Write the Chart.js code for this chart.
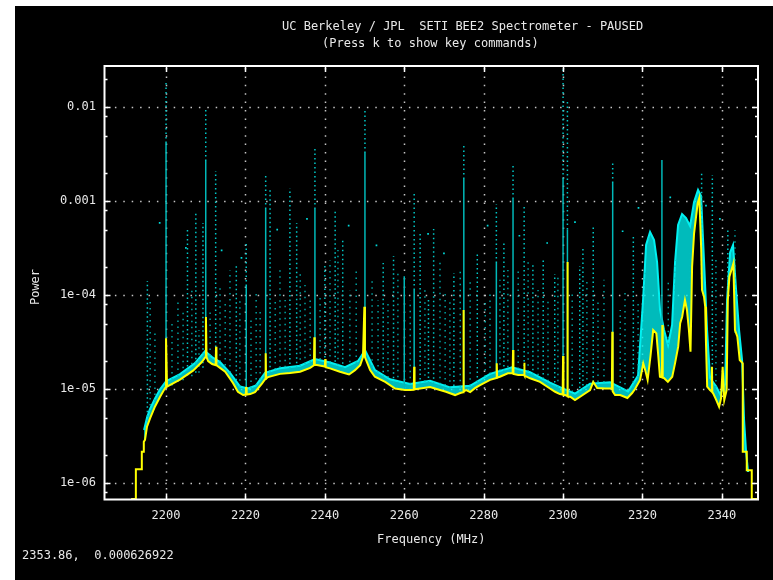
<!DOCTYPE html>
<html><head><meta charset="utf-8">
<script src="https://cdn.jsdelivr.net/npm/chart.js@4.4.1/dist/chart.umd.min.js"></script>
<style>html,body{margin:0;padding:0;background:#fff;}canvas{display:block;}</style>
</head><body><canvas id="c" width="773" height="580"></canvas>
<script>
// ---- data ----
const titleLines = ['UC Berkeley / JPL  SETI BEE2 Spectrometer - PAUSED', '(Press k to show key commands)'];
const xLabel = 'Frequency (MHz)';
const yLabel = 'Power';
const readout = '2353.86,  0.000626922';
const xTicks = [2200, 2220, 2240, 2260, 2280, 2300, 2320, 2340];
const yTicks = [1e-6, 1e-5, 1e-4, 1e-3, 1e-2];
const yTickLabels = ['1e-06', '1e-05', '1e-04', '0.001', '0.01'];
const yMinorMult = [2, 5, 8];

// yellow spectrum (averaged power)
const specFreq = [2191.2,2192.4,2192.4,2193.9,2193.9,2194.4,2194.4,2194.7,2195.2,2196.0,2197.2,2198.5,2199.75,2200.0,2200.0,2200.25,2203.5,2206.8,2209.0,2209.9,2210.05,2210.2,2210.6,2211.6,2212.5,2212.6,2212.7,2213.6,2214.9,2216.9,2218.1,2219.4,2220.1,2220.15,2220.3,2221.2,2222.4,2224.2,2225.0,2225.1,2225.2,2225.7,2228.7,2231.2,2233.75,2236.3,2237.25,2237.35,2237.45,2238.0,2239.3,2240.0,2240.1,2240.2,2241.3,2243.8,2246.1,2247.6,2248.9,2249.6,2249.95,2250.1,2250.4,2251.4,2252.6,2255.2,2257.7,2260.2,2261.5,2262.4,2262.5,2262.6,2264.0,2266.5,2269.0,2270.5,2272.8,2274.1,2274.8,2274.9,2275.0,2275.6,2276.6,2277.8,2279.1,2281.6,2283.2,2283.3,2283.4,2284.1,2286.1,2287.3,2287.4,2287.5,2288.7,2289.7,2290.2,2290.25,2290.3,2291.7,2294.2,2296.7,2298.0,2299.2,2299.9,2300.0,2300.1,2300.5,2301.0,2301.1,2301.2,2301.8,2303.0,2304.3,2306.8,2307.6,2308.6,2310.6,2312.3,2312.4,2312.5,2313.1,2314.4,2316.2,2317.4,2318.2,2319.4,2320.2,2320.7,2321.3,2322.0,2322.7,2323.5,2324.0,2324.4,2324.9,2325.0,2325.1,2325.4,2326.4,2327.5,2328.2,2329.0,2329.5,2330.0,2330.7,2331.2,2331.7,2332.1,2332.5,2333.0,2333.5,2333.9,2334.3,2334.5,2334.8,2335.0,2335.5,2335.8,2336.0,2336.3,2337.0,2337.4,2337.5,2337.6,2337.8,2338.6,2339.3,2339.8,2340.2,2340.6,2341.2,2341.5,2341.9,2342.4,2342.9,2343.3,2343.9,2344.5,2345.26,2345.26,2346.27,2346.27,2347.53,2347.53,2349.0];
const specPower = [6.8e-7,6.8e-7,1.41e-6,1.41e-6,2.17e-6,2.17e-6,2.77e-6,2.9e-6,4.0e-6,4.95e-6,6.53e-6,8.34e-6,1.03e-5,1.05e-5,3.5e-5,1.07e-5,1.27e-5,1.58e-5,1.95e-5,2.2e-5,5.87e-5,2.2e-5,2.0e-5,1.86e-5,1.81e-5,2.84e-5,1.8e-5,1.69e-5,1.54e-5,1.16e-5,9.42e-6,8.69e-6,8.8e-6,1.06e-5,8.8e-6,8.9e-6,9.35e-6,1.16e-5,1.29e-5,2.42e-5,1.3e-5,1.35e-5,1.46e-5,1.49e-5,1.54e-5,1.69e-5,1.8e-5,3.57e-5,1.81e-5,1.81e-5,1.77e-5,1.75e-5,2.1e-5,1.72e-5,1.67e-5,1.54e-5,1.44e-5,1.6e-5,1.81e-5,2.21e-5,7.57e-5,2.2e-5,2.05e-5,1.6e-5,1.36e-5,1.2e-5,1.02e-5,9.83e-6,9.83e-6,9.9e-6,1.74e-5,1.0e-5,1.02e-5,1.06e-5,9.83e-6,9.42e-6,8.69e-6,9.14e-6,9.3e-6,6.98e-5,9.5e-6,9.83e-6,9.35e-6,1.03e-5,1.11e-5,1.26e-5,1.32e-5,1.89e-5,1.33e-5,1.36e-5,1.48e-5,1.48e-5,2.62e-5,1.46e-5,1.42e-5,1.42e-5,1.42e-5,1.92e-5,1.4e-5,1.31e-5,1.2e-5,1.02e-5,9.42e-6,8.9e-6,8.8e-6,2.26e-5,8.7e-6,8.69e-6,8.5e-6,2.26e-4,8.4e-6,8.34e-6,7.69e-6,8.34e-6,9.83e-6,1.2e-5,1.03e-5,1.02e-5,1.02e-5,4.1e-5,9.5e-6,8.69e-6,8.69e-6,8.08e-6,9.14e-6,1.02e-5,1.26e-5,1.89e-5,1.6e-5,1.26e-5,2.22e-5,4.27e-5,3.94e-5,2.22e-5,1.36e-5,1.34e-5,4.83e-5,1.33e-5,1.32e-5,1.2e-5,1.36e-5,1.89e-5,2.84e-5,5.04e-5,5.92e-5,8.91e-5,6.98e-5,4.27e-5,2.51e-5,2.01e-4,4.57e-4,6.86e-4,9.52e-4,1.08e-3,6.86e-4,3.03e-4,1.14e-4,9.66e-5,7.57e-5,3.08e-5,1.07e-5,9.83e-6,9.5e-6,1.74e-5,9.3e-6,9.06e-6,7.69e-6,6.53e-6,8.02e-6,1.74e-5,7.69e-6,9.83e-6,8.91e-5,1.58e-4,1.86e-4,2.19e-4,4.27e-5,3.63e-5,2.05e-5,1.89e-5,2.17e-6,2.17e-6,1.38e-6,1.38e-6,6.8e-7,6.8e-7];

// upper edge of the dense cyan (peak-hold) cloud
const cloudFreq = [2194.46,2195.21,2195.97,2197.23,2198.49,2200.0,2203.53,2207.3,2209.82,2211.59,2213.6,2216.12,2218.64,2220.65,2222.67,2224.94,2228.72,2233.75,2237.53,2241.31,2245.09,2248.36,2250.13,2252.64,2256.42,2261.46,2266.5,2271.54,2276.57,2281.61,2287.15,2291.69,2296.73,2299.75,2303.02,2306.8,2311.84,2316.37,2318.89,2320.15,2320.91,2321.91,2322.92,2323.68,2324.43,2325.44,2326.45,2327.46,2328.21,2328.97,2329.97,2330.98,2331.99,2332.99,2334.0,2334.76,2335.52,2336.27,2337.03,2338.54,2339.55,2340.81,2341.31,2342.07,2342.82,2343.58,2344.33,2345.09,2345.59,2346.1,2346.6];
const cloudPower = [3.69e-6,5.0e-6,6.2e-6,8.0e-6,1.0e-5,1.22e-5,1.45e-5,1.9e-5,2.55e-5,2.2e-5,1.95e-5,1.5e-5,1.07e-5,1.02e-5,1.1e-5,1.5e-5,1.68e-5,1.78e-5,2.1e-5,1.93e-5,1.72e-5,2.0e-5,2.6e-5,1.6e-5,1.28e-5,1.14e-5,1.23e-5,1.05e-5,1.09e-5,1.46e-5,1.72e-5,1.52e-5,1.18e-5,1.03e-5,9.0e-6,1.15e-5,1.19e-5,9.5e-6,1.4e-5,8.91e-5,3.43e-4,4.71e-4,3.87e-4,2.26e-4,6.98e-5,4.27e-5,2.96e-5,4.83e-5,2.26e-4,5.6e-4,7.33e-4,6.64e-4,5.46e-4,9.82e-4,1.32e-3,1.14e-3,2.26e-4,4.27e-5,1.32e-5,1.08e-5,8.9e-6,1.14e-5,8.91e-5,2.85e-4,3.43e-4,1.14e-4,4.27e-5,2.05e-5,4.71e-6,2.15e-6,1.32e-6];

// strong narrow-band carriers (peak hold)
const spikeFreq  = [2195.3,2200.0,2205.4,2207.5,2209.3,2210.0,2212.5,2217.7,2220.2,2225.1,2226.2,2231.2,2232.9,2237.5,2240.0,2242.6,2244.5,2250.1,2254.7,2257.3,2260.0,2262.5,2264.0,2266.1,2267.4,2272.5,2275.0,2278.4,2283.2,2285.1,2287.4,2290.2,2292.4,2295.0,2297.9,2300.0,2301.1,2304.2,2305.0,2307.6,2312.5,2317.7,2324.9,2334.9,2337.6,2341.5];
const spikeBase  = [4.1e-6,1.05e-5,1.4e-5,1.5e-5,1.7e-5,2.2e-5,1.82e-5,1.0e-5,8.8e-6,1.3e-5,1.38e-5,1.49e-5,1.52e-5,1.81e-5,1.75e-5,1.58e-5,1.5e-5,2.2e-5,1.22e-5,1.05e-5,9.9e-6,9.9e-6,1.02e-5,1.06e-5,1.04e-5,8.7e-6,9.5e-6,1.07e-5,1.3e-5,1.4e-5,1.48e-5,1.42e-5,1.28e-5,1.15e-5,9.5e-6,8.8e-6,8.5e-6,8.3e-6,8.8e-6,1.2e-5,1.0e-5,9.5e-6,1.36e-5,1.5e-4,9.5e-6,9.0e-5];
const spikeSolid = [null,4.17e-3,null,null,null,2.69e-3,null,null,1.26e-4,8.28e-4,null,null,null,8.28e-4,null,null,null,3.27e-3,null,null,1.6e-4,1.14e-4,null,null,null,null,1.73e-3,null,2.21e-4,null,1.06e-3,null,null,null,null,1.73e-3,5.0e-4,null,null,null,1.57e-3,null,2.75e-3,null,null,null];
const spikeMax   = [1.42e-4,1.82e-2,5.07e-4,7.52e-4,5.87e-4,9.84e-3,2.1e-3,2.05e-4,3.6e-4,1.86e-3,1.35e-3,1.38e-3,5.87e-4,3.6e-3,2.2e-4,8.28e-4,4.07e-4,9.6e-3,2.21e-4,2.62e-4,1.6e-4,1.22e-3,4.6e-4,9.15e-5,5.07e-4,1.73e-4,4.07e-3,2.82e-4,9.35e-4,3.79e-4,2.49e-3,8.91e-4,2.15e-4,2.43e-4,1.69e-4,2.55e-2,1.17e-2,2.05e-4,3.11e-4,5.34e-4,2.62e-3,4.17e-4,2.75e-3,2.0e-3,1.9e-3,5.2e-4];

// weaker sporadic columns of peak-hold dots
const colFreq = [2196.0,2197.2,2201.5,2203.0,2204.3,2206.5,2208.3,2211.1,2213.6,2214.9,2216.1,2218.6,2221.4,2222.7,2223.7,2227.5,2228.7,2230.0,2233.8,2235.0,2236.3,2238.8,2241.3,2243.3,2246.3,2247.9,2251.9,2253.4,2255.9,2258.4,2261.5,2265.2,2269.0,2270.3,2271.5,2274.1,2276.6,2280.4,2281.6,2284.1,2286.1,2288.7,2291.2,2293.7,2296.2,2298.7,2302.3,2306.0,2308.8,2310.3,2314.4,2315.6,2318.9,2320.7,2326.5,2328.2,2332.0,2338.5,2343.3];
const colBase = [5e-6,6.5e-6,1.1e-5,1.2e-5,1.25e-5,1.38e-5,1.5e-5,1.95e-5,1.7e-5,1.55e-5,1.3e-5,9.2e-6,8.9e-6,9.5e-6,1.1e-5,1.4e-5,1.46e-5,1.48e-5,1.54e-5,1.6e-5,1.69e-5,1.79e-5,1.67e-5,1.56e-5,1.45e-5,1.65e-5,1.5e-5,1.3e-5,1.15e-5,1.0e-5,9.8e-6,1.04e-5,9.8e-6,9.5e-6,9.0e-6,9.1e-6,9.4e-6,1.18e-5,1.26e-5,1.36e-5,1.48e-5,1.42e-5,1.33e-5,1.22e-5,1.05e-5,9.1e-6,8.1e-6,9.5e-6,1.03e-5,1.02e-5,8.7e-6,8.4e-6,1.15e-5,1.6e-5,1.25e-5,1.9e-5,3e-5,7.8e-6,4e-5];
const colTop = [8.91e-5,4.27e-5,5.46e-5,8.91e-5,6.98e-5,1.14e-4,4.27e-5,6.98e-5,1.29e-4,8.91e-5,1.86e-4,8.91e-5,5.46e-5,1.14e-4,6.98e-5,8.91e-5,1.86e-4,8.91e-5,1.86e-4,1.29e-4,8.91e-5,1.01e-4,2.38e-4,3.03e-4,1.14e-4,1.86e-4,1.46e-4,8.91e-5,8.91e-5,1.86e-4,8.91e-5,1.14e-4,2.38e-4,1.14e-4,8.91e-5,1.86e-4,1.46e-4,8.91e-5,1.14e-4,1.46e-4,1.86e-4,1.86e-4,2.38e-4,1.14e-4,8.91e-5,1.64e-4,1.14e-4,1.46e-4,8.91e-5,1.46e-4,6.98e-5,1.14e-4,8.91e-5,1.86e-4,1.46e-4,2.38e-4,3.03e-4,2.38e-4,4.94e-4];

// isolated high dots
const dotFreq = [2198.4,2205.0,2214.0,2219.0,2228.0,2235.5,2246.0,2253.0,2266.0,2270.0,2281.0,2289.0,2296.0,2303.0,2315.0,2319.0,2321.5,2327.0,2336.0,2339.5];
const dotPower = [5.9e-4,3.2e-4,3.0e-4,2.5e-4,5.0e-4,6.5e-4,5.5e-4,3.4e-4,4.5e-4,2.8e-4,5.5e-4,4.3e-4,3.6e-4,6.0e-4,4.8e-4,8.5e-4,4.0e-4,1.1e-3,9.0e-4,6.5e-4];

// ---- build datasets ----
const specData = specFreq.map((f, i) => ({x: f, y: specPower[i]}));
const cloudData = cloudFreq.map((f, i) => ({x: f, y: cloudPower[i]}));
const solidData = [], dottedData = [], colData = [];
spikeFreq.forEach((f, i) => {
  if (spikeSolid[i] !== null) { solidData.push({x: f, y: spikeBase[i]}, {x: f, y: spikeSolid[i]}, {x: f, y: null}); }
  const lo = spikeSolid[i] !== null ? spikeSolid[i] : spikeBase[i];
  dottedData.push({x: f, y: lo}, {x: f, y: spikeMax[i]}, {x: f, y: null});
});
colFreq.forEach((f, i) => { colData.push({x: f, y: colBase[i]}, {x: f, y: colTop[i]}, {x: f, y: null}); });
const dotData = dotFreq.map((f, i) => ({x: f, y: dotPower[i]}));

const FONT = '12px "DejaVu Sans Mono", "Liberation Mono", monospace';
const TXT = '#e8e8e8';

const gnuplotFrame = {
  id: 'gnuplotFrame',
  beforeDraw(chart) {
    const c = chart.ctx;
    c.save();
    c.fillStyle = '#ffffff'; c.fillRect(0, 0, chart.width, chart.height);
    c.fillStyle = '#000000'; c.fillRect(15, 6, chart.width - 15, chart.height - 6);
    c.restore();
  },
  beforeDatasetsDraw(chart) {
    const c = chart.ctx, a = chart.chartArea, xs = chart.scales.x, ys = chart.scales.y;
    c.save();
    c.strokeStyle = '#c4c4c4'; c.lineWidth = 1.5; c.setLineDash([1.5, 6.9]);
    xTicks.forEach(t => { const px = Math.round(xs.getPixelForValue(t)) + 0.5; c.beginPath(); c.moveTo(px, a.top + 2); c.lineTo(px, a.bottom - 2); c.stroke(); });
    yTicks.forEach(t => { const py = Math.round(ys.getPixelForValue(t)) + 0.5; c.beginPath(); c.moveTo(a.left + 2, py); c.lineTo(a.right - 2, py); c.stroke(); });
    c.restore();
  },
  afterDatasetsDraw(chart) {
    const c = chart.ctx, a = chart.chartArea, xs = chart.scales.x, ys = chart.scales.y;
    c.save();
    c.strokeStyle = '#ffffff'; c.lineWidth = 2; c.setLineDash([]);
    c.strokeRect(a.left, a.top, a.right - a.left, a.bottom - a.top);
    c.lineWidth = 1.5;
    xTicks.forEach(t => {
      const px = Math.round(xs.getPixelForValue(t)) + 0.5;
      c.beginPath(); c.moveTo(px, a.bottom); c.lineTo(px, a.bottom - 6); c.moveTo(px, a.top); c.lineTo(px, a.top + 6); c.stroke();
    });
    const minors = [];
    for (let e = -7; e <= -2; e++) yMinorMult.forEach(m => { const v = m * Math.pow(10, e); if (v > ys.min && v < ys.max) minors.push(v); });
    minors.forEach(v => {
      const py = Math.round(ys.getPixelForValue(v)) + 0.5;
      c.beginPath(); c.moveTo(a.left, py); c.lineTo(a.left + 3, py); c.moveTo(a.right, py); c.lineTo(a.right - 3, py); c.stroke();
    });
    yTicks.forEach(v => {
      const py = Math.round(ys.getPixelForValue(v)) + 0.5;
      c.beginPath(); c.moveTo(a.left, py); c.lineTo(a.left + 6, py); c.moveTo(a.right, py); c.lineTo(a.right - 6, py); c.stroke();
    });
    // labels
    c.fillStyle = TXT; c.font = FONT; c.textBaseline = 'middle';
    c.textAlign = 'right';
    yTicks.forEach((v, i) => c.fillText(yTickLabels[i], 96, ys.getPixelForValue(v)));
    c.textAlign = 'center';
    xTicks.forEach(t => c.fillText(String(t), xs.getPixelForValue(t), 516));
    c.fillText(xLabel, (a.left + a.right) / 2, 540);
    c.textAlign = 'left';
    c.fillText(titleLines[0], 282, 27);
    c.fillText(titleLines[1], 322, 44);
    c.fillText(readout, 22, 556);
    c.save(); c.translate(36, 287); c.rotate(-Math.PI / 2); c.textAlign = 'center'; c.fillText(yLabel, 0, 0); c.restore();
    c.restore();
  }
};

new Chart(document.getElementById('c'), {
  type: 'line',
  data: { datasets: [
    { label: 'avg', data: specData, borderColor: '#ffff00', borderWidth: 2, pointRadius: 0, tension: 0, fill: false, order: 0 },
    { label: 'carriers', data: solidData, borderColor: '#00b8b8', borderWidth: 1.5, pointRadius: 0, spanGaps: false, fill: false, order: 1 },
    { label: 'carriers peak', data: dottedData, borderColor: '#00c8c8', borderWidth: 1.5, borderDash: [1.5, 3], pointRadius: 0, spanGaps: false, fill: false, order: 2 },
    { label: 'sporadic', data: colData, borderColor: 'rgba(0,190,190,0.85)', borderWidth: 1.5, borderDash: [1.5, 4.5], pointRadius: 0, spanGaps: false, fill: false, order: 3 },
    { label: 'dots', data: dotData, showLine: false, pointRadius: 1.2, pointStyle: 'rect', pointBackgroundColor: '#00d8d8', pointBorderWidth: 0, order: 4 },
    { label: 'peak hold', data: cloudData, borderColor: '#00f0f0', borderWidth: 2, pointRadius: 0, tension: 0,
      fill: { target: 0, above: 'rgba(0,240,240,0.78)', below: 'rgba(0,0,0,0)' }, order: 5 }
  ]},
  options: {
    responsive: false, animation: false, devicePixelRatio: 1,
    layout: { padding: { left: 104.5, top: 66, right: 15, bottom: 80.5 } },
    scales: {
      x: { type: 'linear', min: 2184.5, max: 2349.1, display: false },
      y: { type: 'logarithmic', min: 6.73e-7, max: 2.75e-2, display: false }
    },
    plugins: { legend: { display: false }, tooltip: { enabled: false }, title: { display: false } }
  },
  plugins: [gnuplotFrame]
});
</script></body></html>
